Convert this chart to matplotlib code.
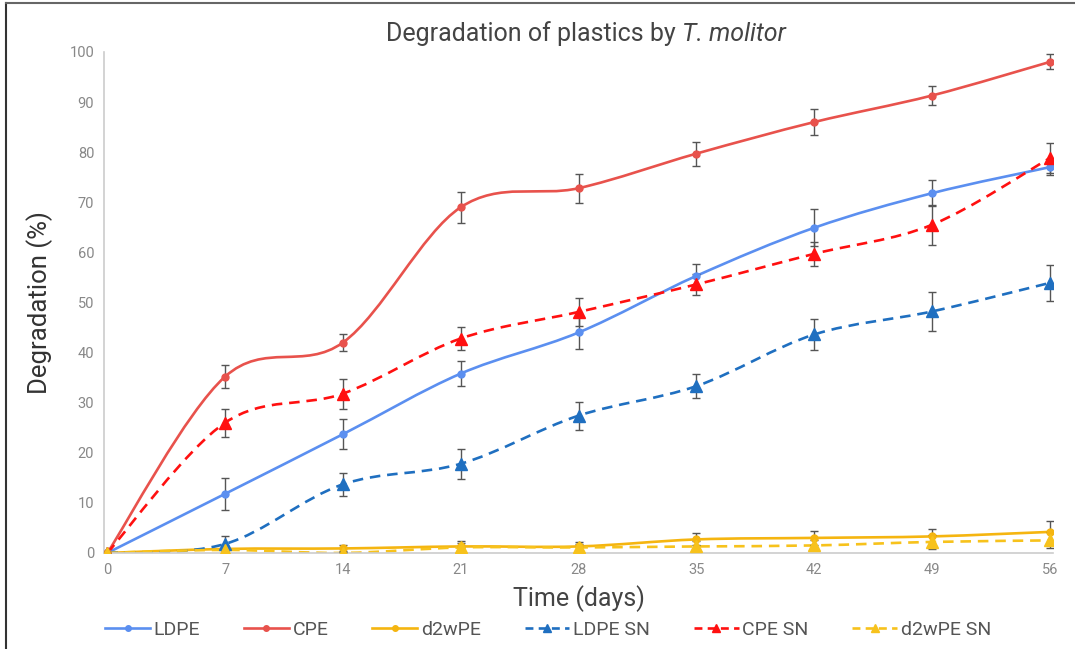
import matplotlib.pyplot as plt
from matplotlib.path import Path
from matplotlib.patches import PathPatch
from matplotlib.lines import Line2D
import numpy as np

days = [0, 7, 14, 21, 28, 35, 42, 49, 56]

ldpe = [0, 11.8, 23.7, 35.8, 44.0, 55.3, 64.9, 71.8, 77.0]
ldpe_err = [0, 3.2, 3.0, 2.5, 3.3, 2.4, 3.7, 2.6, 1.5]
cpe = [0, 35.2, 42.0, 69.0, 72.8, 79.7, 86.0, 91.3, 98.0]
cpe_err = [0, 2.3, 1.6, 3.1, 2.9, 2.4, 2.6, 1.8, 1.5]
d2wpe = [0, 0.8, 0.9, 1.3, 1.3, 2.7, 3.0, 3.3, 4.2]
d2wpe_err = [0, 0.6, 0.7, 1.0, 0.8, 1.2, 1.4, 1.5, 2.2]
ldpe_sn = [0, 1.8, 13.7, 17.8, 27.4, 33.3, 43.6, 48.2, 53.9]
ldpe_sn_err = [0, 1.5, 2.3, 3.0, 2.8, 2.4, 3.0, 3.9, 3.6]
cpe_sn = [0, 26.0, 31.8, 42.8, 48.1, 53.6, 59.7, 65.5, 78.8]
cpe_sn_err = [0, 2.8, 3.0, 2.3, 2.8, 2.1, 2.4, 4.0, 3.0]
d2wpe_sn = [0, 0.6, 0.0, 1.1, 1.1, 1.3, 1.5, 2.2, 2.5]
d2wpe_sn_err = [0, 0.4, 0.3, 0.8, 0.6, 1.0, 1.0, 1.4, 1.6]

names = ['LDPE', 'CPE', 'd2wPE', 'LDPE SN', 'CPE SN', 'd2wPE SN']
series = [ldpe, cpe, d2wpe, ldpe_sn, cpe_sn, d2wpe_sn]
errors = [ldpe_err, cpe_err, d2wpe_err, ldpe_sn_err, cpe_sn_err, d2wpe_sn_err]
colors = ['#5b8ff0', '#e8524c', '#f5b510', '#1f6fc0', '#ff1010', '#f7c21c']
styles = ['-', '-', '-', '--', '--', '--']
markers = ['o', 'o', 'o', '^', '^', '^']


def smooth_path(x, y):
    # Catmull-Rom style bezier, like Excel's smoothed line
    pts = np.column_stack([x, y]).astype(float)
    n = len(pts)
    verts = [pts[0]]
    codes = [Path.MOVETO]
    for i in range(n - 1):
        p0 = pts[i - 1] if i > 0 else pts[i]
        p1 = pts[i]
        p2 = pts[i + 1]
        p3 = pts[i + 2] if i + 2 < n else pts[i + 1]
        c1 = p1 + (p2 - p0) / 6.0
        c2 = p2 - (p3 - p1) / 6.0
        verts += [c1, c2, p2]
        codes += [Path.CURVE4] * 3
    return Path(verts, codes)


plt.rcParams['font.family'] = ['Roboto', 'DejaVu Sans']

fig = plt.figure(figsize=(10.75, 6.49), dpi=100)
ax = fig.add_axes([0.0967, 0.148, 0.883, 0.772])

for y, e, c, ls, m in zip(series, errors, colors, styles, markers):
    patch = PathPatch(smooth_path(days, y), facecolor='none', edgecolor=c,
                      lw=1.9, linestyle=ls, zorder=2)
    if ls == '--':
        patch.set_linestyle((0, (4, 2.6)))
    ax.add_patch(patch)
    ax.errorbar(days, y, yerr=e, fmt='none', ecolor='#555555', elinewidth=1,
                capsize=3, capthick=1, zorder=3)
    ax.plot(days, y, linestyle='none', marker=m, color=c,
            markersize=5 if m == 'o' else 8, zorder=4)

ax.set_xlim(-0.2, 56.2)
ax.set_ylim(0, 100)
ax.set_xticks(days)
ax.set_yticks(range(0, 101, 10))
for s in ['top', 'right']:
    ax.spines[s].set_visible(False)
for s in ['left', 'bottom']:
    ax.spines[s].set_color('#cccccc')
    ax.spines[s].set_linewidth(1.2)
ax.tick_params(length=0, colors='#888888', labelsize=10.5, pad=7)

fig.text(0.634, 0.948, 'Degradation of plastics by ', ha='right', va='center',
         fontsize=18, color='#444444')
fig.text(0.634, 0.948, 'T. molitor', ha='left', va='center',
         fontsize=18, color='#444444', style='italic')
ax.set_xlabel('Time (days)', fontsize=18, color='#444444', labelpad=6)
ax.set_ylabel('Degradation (%)', fontsize=18.5, color='#333333', labelpad=12)

handles = [Line2D([], [], color=c, linestyle=ls, marker=m, lw=1.9,
                  markersize=4 if m == 'o' else 6,
                  dashes=(3, 2) if ls == '--' else (None, None))
           for c, ls, m in zip(colors, styles, markers)]
fig.legend(handles, names, loc='center', bbox_to_anchor=(0.51, 0.03), ncol=6,
           frameon=False, fontsize=14, handlelength=2.3, columnspacing=2.25,
           handletextpad=0.2, labelcolor='#555555')

# outer frame of the original image
fig.add_artist(Line2D([0.006, 0.006], [0, 0.995], color='#333333', lw=1.5,
                      transform=fig.transFigure))
fig.add_artist(Line2D([0.006, 1], [0.995, 0.995], color='#666666', lw=1.5,
                      transform=fig.transFigure))

fig.savefig('out.png', dpi=100)
